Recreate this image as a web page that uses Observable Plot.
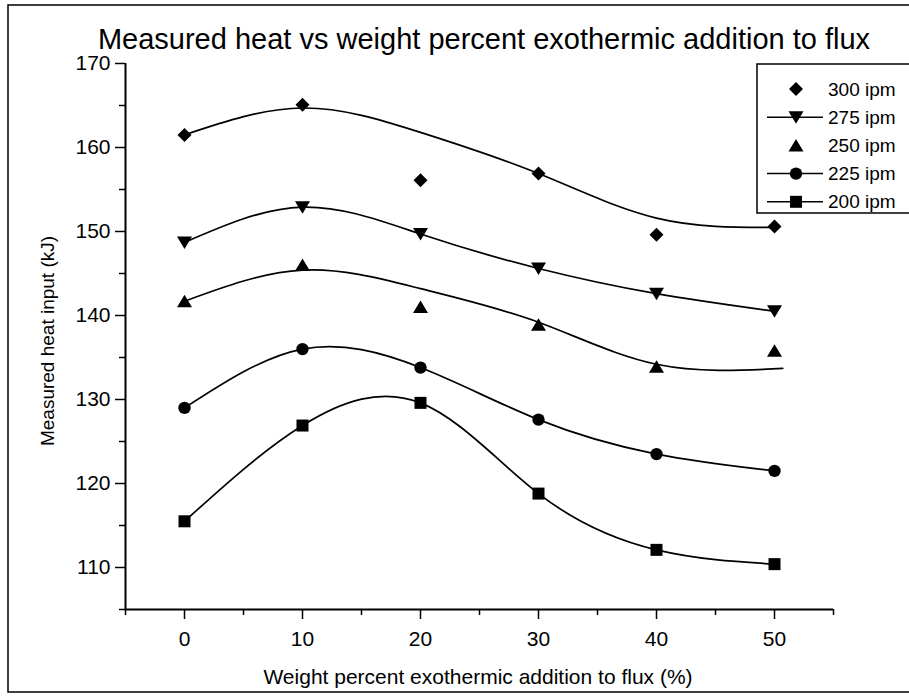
<!DOCTYPE html>
<html><head><meta charset="utf-8">
<script src="https://cdn.jsdelivr.net/npm/d3@7"></script>
<script src="https://cdn.jsdelivr.net/npm/@observablehq/plot@0.6"></script>
<style>html,body{margin:0;padding:0;background:#fff}</style>
</head><body><div id="chart"></div>
<script>
// ---- data ----
const weights = [0, 10, 20, 30, 40, 50];
const ipm300 = [161.5, 165.1, 156.1, 156.9, 149.6, 150.6];
const ipm275 = [148.7, 152.9, 149.7, 145.6, 142.6, 140.5];
const ipm250 = [141.7, 146.0, 141.0, 138.9, 133.9, 135.8];
const ipm225 = [129.0, 136.0, 133.8, 127.6, 123.5, 121.5];
const ipm200 = [115.5, 126.9, 129.6, 118.8, 112.1, 110.4];
// smoothed curves of the 300 and 250 ipm series (they do not pass through the points)
const fitX300 = [0, 10, 20, 30, 40, 50];
const fit300 = [161.5, 164.7, 161.8, 156.9, 151.6, 150.5];
const fitX250 = [0, 10, 20, 30, 40, 50.7];
const fit250 = [141.7, 145.4, 143.2, 139.2, 134.2, 133.7];
const seriesNames = ["300 ipm", "275 ipm", "250 ipm", "225 ipm", "200 ipm"];
const seriesHasLine = [false, true, false, true, true];
const xTicks = [0, 10, 20, 30, 40, 50];
const xMinor = [-5, 5, 15, 25, 35, 45, 55];
const yTicks = [110, 120, 130, 140, 150, 160, 170];
const yMinor = [105, 115, 125, 135, 145, 155, 165];
const titleText = "Measured heat vs weight percent exothermic addition to flux";
const xLabel = "Weight percent exothermic addition to flux (%)";
const yLabel = "Measured heat input (kJ)";

// ---- symbols ----
const symDiamond = {draw(c){ const a = 7; c.moveTo(0,-a); c.lineTo(a,0); c.lineTo(0,a); c.lineTo(-a,0); c.closePath(); }};
const symTriDown = {draw(c){ c.moveTo(-7.5,-6); c.lineTo(7.5,-6); c.lineTo(0,6.5); c.closePath(); }};
const symTriUp = {draw(c){ c.moveTo(-7.5,6); c.lineTo(7.5,6); c.lineTo(0,-6.5); c.closePath(); }};
const symCircle = {draw(c){ c.moveTo(6.2,0); c.arc(0,0,6.2,0,2*Math.PI); c.closePath(); }};
const symSquare = {draw(c){ const h = 6; c.rect(-h,-h,2*h,2*h); }};
const symbols = [symDiamond, symTriDown, symTriUp, symCircle, symSquare];

const toRows = (xs, ys) => xs.map((x, i) => ({x, y: ys[i]}));
const seriesVals = [ipm300, ipm275, ipm250, ipm225, ipm200];
const lineData = [toRows(fitX300, fit300), toRows(weights, ipm275), toRows(fitX250, fit250), toRows(weights, ipm225), toRows(weights, ipm200)];

const FONT = "'Liberation Sans', Arial, sans-serif";
const marks = [];
lineData.forEach(d => marks.push(Plot.line(d, {x: "x", y: "y", curve: "natural", stroke: "black", strokeWidth: 1.7})));
seriesVals.forEach((v, i) => marks.push(Plot.dot(toRows(weights, v), {x: "x", y: "y", symbol: symbols[i], fill: "black", stroke: "none", r: 6})));
marks.push(
  Plot.axisX(xTicks, {tickSize: 10, tickPadding: 12, strokeWidth: 1.5, label: null, fontSize: 21}),
  Plot.axisX(xMinor, {tickSize: 6, tickFormat: () => "", strokeWidth: 1.5, label: null}),
  Plot.axisY(yTicks, {tickSize: 10, tickPadding: 5, strokeWidth: 1.5, label: null, fontSize: 21}),
  Plot.axisY(yMinor, {tickSize: 6, tickFormat: () => "", strokeWidth: 1.5, label: null}),
  Plot.ruleX([-5], {stroke: "black", strokeWidth: 2}),
  Plot.ruleY([105], {stroke: "black", strokeWidth: 2})
);

const chart = Plot.plot({
  width: 909, height: 696,
  marginLeft: 125, marginRight: 76, marginTop: 63, marginBottom: 87,
  x: {domain: [-5, 55]},
  y: {domain: [105, 170]},
  style: {fontFamily: FONT, fontSize: "20px", background: "white", color: "black", overflow: "visible"},
  marks
});

const svg = d3.select(chart);
// outer frame
svg.append("rect").attr("x", 8).attr("y", 5).attr("width", 1000).attr("height", 687)
  .attr("fill", "none").attr("stroke", "black").attr("stroke-width", 1.5);
// title
svg.append("text").attr("x", 484).attr("y", 49).attr("text-anchor", "middle")
  .attr("font-family", FONT).attr("font-size", 29).attr("fill", "black").text(titleText);
// x label
svg.append("text").attr("x", 478).attr("y", 684).attr("text-anchor", "middle")
  .attr("font-family", FONT).attr("font-size", 21).attr("fill", "black").text(xLabel);
// y label
svg.append("text").attr("transform", "translate(54,341) rotate(-90)").attr("text-anchor", "middle")
  .attr("font-family", FONT).attr("font-size", 19).attr("fill", "black").text(yLabel);
// legend
const lg = svg.append("g");
lg.append("rect").attr("x", 757).attr("y", 64).attr("width", 200).attr("height", 149)
  .attr("fill", "white").attr("stroke", "black").attr("stroke-width", 1.5);
seriesNames.forEach((name, i) => {
  const cy = 89 + i * 28.2;
  if (seriesHasLine[i]) lg.append("line").attr("x1", 767).attr("x2", 823).attr("y1", cy).attr("y2", cy)
    .attr("stroke", "black").attr("stroke-width", 1.5);
  lg.append("path").attr("transform", `translate(796,${cy})`).attr("d", d3.symbol(symbols[i])()).attr("fill", "black");
  lg.append("text").attr("x", 828).attr("y", cy).attr("dy", "0.35em").attr("text-anchor", "start")
    .attr("font-family", FONT).attr("font-size", 19).attr("fill", "black").text(name);
});
document.getElementById("chart").appendChild(chart);
</script>
</body></html>
